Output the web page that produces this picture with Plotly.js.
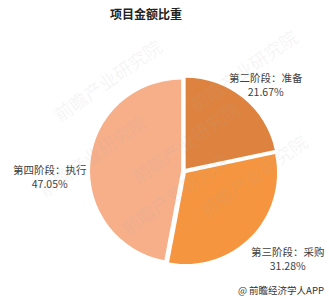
<!DOCTYPE html>
<html>
<head>
<meta charset="utf-8">
<script src="https://cdn.plot.ly/plotly-3.0.1.min.js"></script>
<style>
  html, body { margin: 0; padding: 0; background: #ffffff; }
  #chart { width: 329px; height: 300px; }
</style>
</head>
<body>
<div id="chart"></div>
<script>
// Project amount share by stage
const stages = ['第二阶段：准备', '第三阶段：采购', '第四阶段：执行'];
const shares = [21.67, 31.28, 47.05];
const sliceColors = ['#DE833F', '#F5953F', '#F7AF89'];
const chartTitle = '项目金额比重';
const sourceNote = '@ 前瞻经济学人APP';
const watermark = '前瞻产业研究院';

const font = '"Noto Sans CJK SC", "Microsoft YaHei", sans-serif';

// label anchor points (paper coords) for each stage, in the same order as stages
const labelPos = [
  { x: 266 / 329, y: 1 - 84 / 300 },
  { x: 288 / 329, y: 1 - 258 / 300 },
  { x: 50 / 329,  y: 1 - 176 / 300 }
];

const annotations = stages.map((s, i) => ({
  text: s + '<br>' + shares[i].toFixed(2) + '%',
  x: labelPos[i].x, y: labelPos[i].y,
  xref: 'paper', yref: 'paper',
  xanchor: 'center', yanchor: 'middle',
  showarrow: false, align: 'center',
  font: { family: font, size: 10.5, color: '#404040' }
}));

// faint diagonal watermarks
const wmSpots = [[45, 30], [185, 92], [175, 243], [305, 20], [30, 205], [315, 175]];
wmSpots.forEach(p => annotations.push({
  text: watermark, x: p[0] / 329, y: 1 - p[1] / 300,
  xref: 'paper', yref: 'paper', showarrow: false, textangle: -35,
  font: { family: font, size: 18, color: 'rgba(170,170,170,0.13)' }
}));

annotations.push({
  text: sourceNote, x: 281 / 329, y: 1 - 290 / 300,
  xref: 'paper', yref: 'paper', xanchor: 'center', yanchor: 'middle',
  showarrow: false, font: { family: font, size: 9.5, color: '#333333' }
});

const trace = {
  type: 'pie',
  labels: stages,
  values: shares,
  sort: false,
  direction: 'clockwise',
  rotation: 0,
  pull: [0.03, 0.03, 0.03],
  marker: { colors: sliceColors, line: { width: 0 } },
  textinfo: 'none',
  hoverinfo: 'skip',
  domain: { x: [0.273, 0.845], y: [0.117, 0.743] }
};

const layout = {
  width: 329, height: 300,
  margin: { l: 0, r: 0, t: 0, b: 0 },
  paper_bgcolor: '#ffffff',
  showlegend: false,
  title: {
    text: '<b>' + chartTitle + '</b>',
    x: 146 / 329, xanchor: 'center',
    y: 1 - 15 / 300, yanchor: 'middle',
    font: { family: font, size: 12, color: '#222222' }
  },
  annotations: annotations
};

Plotly.newPlot('chart', [trace], layout, { staticPlot: true, displayModeBar: false });
</script>
</body>
</html>
